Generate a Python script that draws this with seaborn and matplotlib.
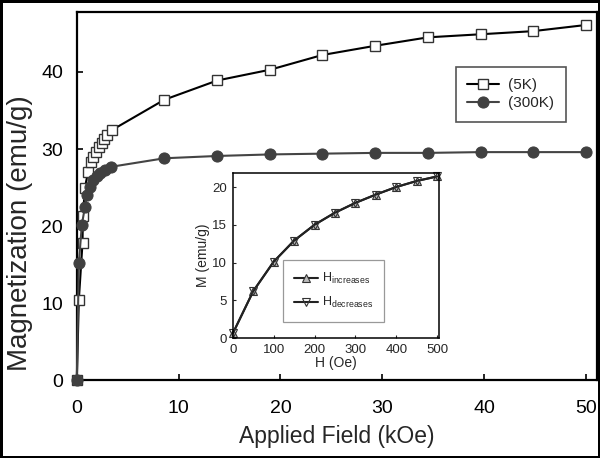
import matplotlib
matplotlib.use("Agg")
import matplotlib.pyplot as plt
import numpy as np
import pandas as pd
import seaborn as sns

# main curves (kOe, emu/g)
h_5k = [0, 0.2, 0.56, 0.6, 0.8, 1.1, 1.4, 1.6, 1.9, 2.2, 2.5, 2.7, 3.0, 3.5,
        8.6, 13.8, 19.0, 24.1, 29.3, 34.5, 39.7, 44.8, 50.0]
m_5k = [0, 10.4, 17.8, 21.3, 25.0, 27.0, 28.3, 29.0, 29.6, 30.3, 30.8, 31.3, 31.8, 32.5,
        36.4, 38.9, 40.3, 42.2, 43.4, 44.5, 44.9, 45.3, 46.1]
h_300k = [0, 0.2, 0.5, 0.8, 1.0, 1.3, 1.6, 2.0, 2.3, 2.75, 3.4,
          8.6, 13.8, 19.0, 24.1, 29.3, 34.5, 39.7, 44.8, 50.0]
m_300k = [0, 15.2, 20.2, 22.5, 24.0, 25.1, 26.0, 26.5, 26.9, 27.3, 27.7,
          28.8, 29.1, 29.3, 29.4, 29.5, 29.5, 29.6, 29.6, 29.6]

# inset (Oe, emu/g)
h_low = [0, 50, 100, 150, 200, 250, 300, 350, 400, 450, 500]
m_inc = [0.6, 6.2, 10.1, 12.9, 15.0, 16.6, 17.9, 19.0, 20.0, 20.8, 21.4]
m_dec = [0.6, 6.2, 10.1, 12.9, 15.0, 16.6, 17.9, 19.0, 20.0, 20.8, 21.4]

sns.set_style("ticks")
plt.rcParams['font.family'] = ['Liberation Sans', 'DejaVu Sans']
plt.rcParams['mathtext.fontset'] = 'custom'
plt.rcParams['mathtext.rm'] = 'Liberation Sans'

fig = plt.figure(figsize=(6, 4.58), dpi=100)
fig.patch.set_edgecolor('black')
fig.patch.set_linewidth(2.5)

ax = fig.add_axes([0.128, 0.170, 0.867, 0.804])
sns.lineplot(x=h_5k, y=m_5k, ax=ax, sort=False, estimator=None, color='black', lw=1.5,
             marker='s', markersize=7, markerfacecolor='white', markeredgecolor='#333333',
             markeredgewidth=1.0, clip_on=False, zorder=3, label='(5K)')
sns.lineplot(x=h_300k, y=m_300k, ax=ax, sort=False, estimator=None, color='#444444', lw=1.5,
             marker='o', markersize=8, markerfacecolor='#404040', markeredgecolor='#404040',
             clip_on=False, zorder=4, label='(300K)')
ax.set_xlim(0, 51.1)
ax.set_ylim(0, 47.8)
ax.set_xticks([0, 10, 20, 30, 40, 50])
ax.set_yticks([0, 10, 20, 30, 40])
ax.tick_params(direction='in', length=4, width=1.2, labelsize=14, colors='black')
ax.tick_params(axis='x', pad=14)
ax.tick_params(axis='y', pad=10)
for s in ax.spines.values():
    s.set_linewidth(1.6)
    s.set_color('black')
ax.set_xlabel('Applied Field (kOe)', fontsize=16.5, labelpad=6)
ax.set_ylabel('Magnetization (emu/g)', fontsize=20)
ax.yaxis.set_label_coords(-0.085, 0.40)
leg = ax.legend(loc='upper right', bbox_to_anchor=(0.94, 0.851), borderaxespad=0,
                fontsize=11, fancybox=False, framealpha=1, edgecolor='#555555',
                handlelength=2.1, borderpad=0.75, labelspacing=0.25, handletextpad=0.6)
leg.get_frame().set_linewidth(1.2)

# inset
axi = fig.add_axes([0.388, 0.262, 0.344, 0.361])
sns.lineplot(x=h_low, y=m_inc, ax=axi, sort=False, estimator=None, color='#222222', lw=1.5,
             marker='^', markersize=6, markerfacecolor='#bbbbbb', markeredgecolor='#333333',
             markeredgewidth=0.8, clip_on=False, label=r'H$_{\mathregular{increases}}$')
sns.lineplot(x=h_low, y=m_dec, ax=axi, sort=False, estimator=None, color='#222222', lw=1.5,
             marker='v', markersize=6, markerfacecolor='none', markeredgecolor='#333333',
             markeredgewidth=0.8, clip_on=False, label=r'H$_{\mathregular{decreases}}$')
axi.set_xlim(0, 505)
axi.set_ylim(0, 21.9)
axi.set_xticks([0, 100, 200, 300, 400, 500])
axi.set_yticks([0, 5, 10, 15, 20])
axi.tick_params(direction='in', length=2, width=0.8, labelsize=9.5, pad=4)
for s in axi.spines.values():
    s.set_linewidth(1.1)
    s.set_color('black')
axi.set_xlabel('H (Oe)', fontsize=10, labelpad=0)
axi.set_ylabel('M (emu/g)', fontsize=10, labelpad=2)
legi = axi.legend(loc='upper right', bbox_to_anchor=(0.733, 0.471), borderaxespad=0,
                  fontsize=9, fancybox=False, framealpha=1, edgecolor='#999999',
                  handlelength=1.9, borderpad=0.9, labelspacing=0.7, handletextpad=0.3)
legi.get_frame().set_linewidth(0.9)

fig.savefig('out.png', dpi=100, edgecolor=fig.get_edgecolor())
